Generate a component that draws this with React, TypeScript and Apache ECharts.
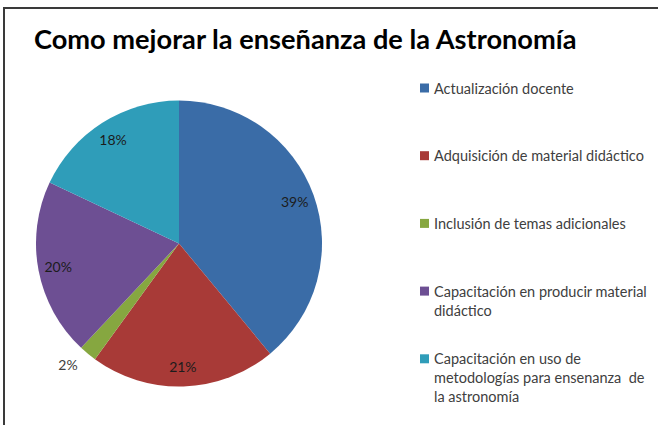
import React, { useEffect, useRef } from "react";
import * as echarts from "echarts";

const title = "Como mejorar la enseñanza de la Astronomía";
const categories = [
  "Actualización docente",
  "Adquisición de material didáctico",
  "Inclusión de temas adicionales",
  "Capacitación en producir material didáctico",
  "Capacitación en uso de metodologías para ensenanza de la astronomía",
];
const legendLabels = [
  "Actualización docente",
  "Adquisición de material didáctico",
  "Inclusión de temas adicionales",
  "Capacitación en producir material\ndidáctico",
  "Capacitación en uso de\nmetodologías para ensenanza  de\nla astronomía",
];
const values = [39, 21, 2, 20, 18];
const colors = ["#3a6ca7", "#a83a37", "#86a740", "#6d4f93", "#2f9db9"];

const FONT = "Lato, 'Open Sans', sans-serif";
const LH = 19;

export default function App() {
  const ref = useRef<HTMLDivElement>(null);
  useEffect(() => {
    if (!ref.current) return;
    const chart = echarts.init(ref.current, null, { renderer: "svg" });
    const center = [179, 243.5];
    const R = 143;
    const base = categories.map((name, i) => ({ name, value: values[i] }));
    const legends = categories.map((name, i) => {
      const n = legendLabels[i].split("\n").length;
      const H = (2 * n - 1) * LH;
      const cy = 88 + i * 67.7;
      // blank lines before the text keep the marker level with its first line
      const text = "\n".repeat(n - 1) + legendLabels[i];
      return {
        show: true,
        left: 420,
        top: cy - H / 2,
        padding: 0,
        icon: "rect",
        itemWidth: 9,
        itemHeight: 9,
        data: [name],
        formatter: () => text,
        textStyle: {
          fontFamily: FONT,
          fontSize: 14.5,
          color: "#404040",
          lineHeight: LH,
        },
      };
    });
    chart.setOption({
      animation: false,
      color: colors,
      title: {
        text: title,
        left: 34,
        top: 25,
        padding: 0,
        textStyle: {
          fontFamily: FONT,
          fontWeight: "bold",
          fontSize: 27.2,
          color: "#000",
        },
      },
      graphic: [
        {
          type: "rect",
          shape: { x: 4, y: 8, width: 800, height: 600 },
          style: { fill: "none", stroke: "#3a3a3a", lineWidth: 2 },
          silent: true,
        },
      ],
      legend: legends,
      series: [
        {
          type: "pie",
          center,
          radius: [0, R],
          startAngle: 90,
          clockwise: true,
          label: { show: false },
          labelLine: { show: false },
          emphasis: { disabled: true },
          data: base,
        },
        {
          type: "pie",
          center,
          radius: [97, R],
          startAngle: 90,
          clockwise: true,
          silent: true,
          itemStyle: { color: "transparent" },
          labelLine: { show: false },
          emphasis: { disabled: true },
          label: {
            show: true,
            position: "inside",
            fontFamily: FONT,
            fontSize: 14,
            color: "#1c1c1c",
            formatter: (p: any) => (p.value >= 5 ? `${p.value}%` : ""),
          },
          data: base,
        },
        {
          type: "pie",
          center,
          radius: [R, R + 36],
          startAngle: 87,
          clockwise: true,
          silent: true,
          itemStyle: { color: "transparent" },
          labelLine: { show: false },
          emphasis: { disabled: true },
          label: {
            show: true,
            position: "inside",
            fontFamily: FONT,
            fontSize: 14,
            color: "#404040",
            formatter: (p: any) => (p.value < 5 ? `${p.value}%` : ""),
          },
          data: base,
        },
      ],
    });
    return () => chart.dispose();
  }, []);
  return (
    <div
      ref={ref}
      style={{ position: "fixed", left: 0, top: 0, width: 658, height: 425, background: "#fff" }}
    />
  );
}
